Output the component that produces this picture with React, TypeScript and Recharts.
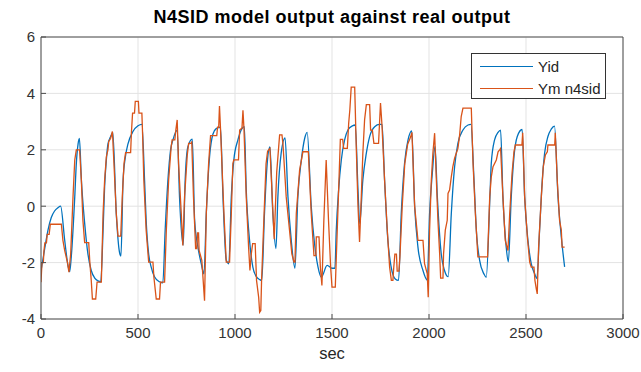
import { CartesianGrid, Line, LineChart, XAxis, YAxis } from "recharts";

const xTicks = [0, 500, 1000, 1500, 2000, 2500, 3000];
const yTicks = [-4, -2, 0, 2, 4, 6];

// Yid (measured output), time in sec
const yidT = [
  0, 18, 36, 53, 70, 88, 101, 122, 139, 148, 156, 174, 182, 191, 198, 208, 225, 242, 259, 277, 294, 308,
  320, 328, 337, 345, 358, 370, 388, 405, 412, 423, 435, 448, 474, 500, 520, 534, 542, 555, 568, 585, 611,
  628, 640, 654, 668, 680, 702, 714, 733, 743, 757, 780, 792, 809, 826, 840, 852, 869, 886, 903, 925, 938,
  955, 968, 981, 994, 1015, 1032, 1048, 1058, 1075, 1092, 1110, 1127, 1138, 1152, 1166, 1180, 1195, 1211,
  1221, 1238, 1258, 1273, 1290, 1309, 1324, 1342, 1359, 1372, 1393, 1410, 1428, 1445, 1475, 1500, 1515,
  1522, 1534, 1548, 1565, 1582, 1605, 1620, 1634, 1643, 1659, 1677, 1694, 1720, 1745, 1758, 1771, 1788,
  1805, 1826, 1843, 1857, 1874, 1892, 1911, 1926, 1943, 1969, 1991, 2003, 2017, 2031, 2043, 2063, 2080,
  2099, 2115, 2132, 2149, 2175, 2201, 2216, 2232, 2244, 2261, 2283, 2295, 2314, 2321, 2338, 2356, 2369,
  2381, 2398, 2409, 2424, 2438, 2455, 2480, 2493, 2510, 2527, 2545, 2556, 2570, 2584, 2596, 2613, 2630,
  2647, 2665, 2682, 2699,
];
const yidV = [
  -2.3, -1.55, -0.85, -0.4, -0.17, -0.05, 0.0, -1.2, -2.1, -2.32, -1.8, 0.33, 1.5, 2.2, 2.4, 0.95, -0.6,
  -1.7, -2.28, -2.55, -2.65, -2.68, -0.85, 0.7, 1.65, 2.2, 2.45, 2.62, -0.26, -1.65, -1.77, 0.9, 1.75, 2.2,
  2.65, 2.85, 2.9, 0.9, -0.5, -1.7, -2.16, -2.5, -2.68, -2.72, -0.85, 0.9, 2.0, 2.35, 2.7, 0.33, -1.38, 0.9,
  2.1, 2.38, -0.5, -1.45, -2.04, -2.4, -0.26, 1.76, 2.55, 2.75, 2.8, 0.33, -1.92, -2.04, 0.33, 1.64, 2.35,
  2.7, 2.82, 0.57, -1.21, -2.16, -2.5, -2.6, -2.63, -0.26, 1.52, 2.1, -0.26, -1.5, 0.33, 1.88, 2.42, 0.33,
  -1.21, -2.2, 0.33, 1.64, 2.4, 2.62, 0.0, -1.33, -2.16, -2.52, -2.1, -2.2, -2.2, -0.85, 0.57, 1.64, 2.35,
  2.7, 2.85, 2.88, 0.57, -0.62, 0.93, 1.88, 2.47, 2.82, 2.9, 2.9, 0.93, -1.21, -2.16, -2.58, -2.63, -0.26,
  1.52, 2.35, 2.67, 0.0, -1.45, -2.28, -2.62, -0.26, 1.16, 2.12, 0.33, -1.69, -2.28, -2.5, -0.26, 1.4, 2.23,
  2.7, 2.88, 2.9, 0.93, -0.85, -1.92, -2.4, -2.52, 0.33, 1.52, 2.35, 2.62, 2.7, 0.33, -1.45, -1.97, 0.33,
  1.76, 2.47, 2.72, 0.33, -1.21, -2.04, -2.4, -2.57, -0.85, 0.93, 1.88, 2.47, 2.73, 2.84, 0.33, -1.09, -2.15,
];

// Ym n4sid (model output), time in sec
const ymT = [
  0, 5, 12, 15, 20, 28, 32, 42, 48, 105, 113, 122, 136, 144, 153, 165, 174, 182, 199, 208, 216, 225, 246,
  251, 259, 265, 282, 289, 311, 320, 328, 337, 345, 349, 359, 368, 376, 388, 397, 411, 419, 428, 436, 462,
  466, 472, 482, 486, 502, 505, 520, 524, 530, 542, 555, 577, 582, 594, 611, 616, 637, 646, 658, 671, 676,
  690, 694, 702, 709, 723, 731, 740, 754, 761, 774, 777, 786, 797, 803, 807, 812, 815, 829, 843, 852, 864,
  874, 906, 910, 916, 920, 925, 929, 943, 955, 972, 981, 989, 994, 1018, 1024, 1036, 1041, 1046, 1058,
  1070, 1077, 1084, 1091, 1104, 1111, 1122, 1127, 1133, 1137, 1150, 1160, 1168, 1180, 1190, 1202, 1215,
  1230, 1242, 1247, 1264, 1281, 1293, 1304, 1309, 1316, 1333, 1350, 1378, 1393, 1407, 1417, 1419, 1433,
  1440, 1448, 1458, 1470, 1482, 1493, 1500, 1517, 1527, 1536, 1543, 1555, 1560, 1579, 1586, 1592, 1599,
  1617, 1625, 1634, 1642, 1651, 1659, 1668, 1677, 1694, 1699, 1708, 1716, 1740, 1750, 1757, 1771, 1785,
  1797, 1806, 1814, 1818, 1824, 1832, 1836, 1845, 1850, 1862, 1875, 1890, 1905, 1912, 1926, 1943, 1969,
  1977, 1991, 1996, 2003, 2012, 2020, 2029, 2038, 2046, 2055, 2060, 2072, 2075, 2084, 2094, 2098, 2106,
  2115, 2123, 2132, 2149, 2158, 2166, 2175, 2218, 2227, 2239, 2252, 2302, 2313, 2321, 2330, 2347, 2356,
  2364, 2369, 2381, 2393, 2407, 2416, 2428, 2438, 2445, 2479, 2483, 2493, 2507, 2519, 2527, 2541, 2546,
  2553, 2558, 2565, 2579, 2589, 2600, 2610, 2613, 2648, 2651, 2661, 2673, 2682, 2686, 2699,
];
const ymV = [
  -2.7, -2.0, -2.0, -1.6, -1.3, -1.3, -1.0, -1.0, -0.64, -0.64, -1.21, -1.57, -1.98, -2.34, -1.69, 0.33,
  1.64, 2.0, 2.0, 0.93, -0.5, -1.29, -1.29, -1.92, -2.63, -3.29, -3.29, -2.69, -2.69, -0.26, 0.93, 1.76,
  2.0, 2.29, 2.41, 2.65, 1.52, -0.26, -1.06, -1.06, 0.33, 1.52, 1.9, 1.9, 2.6, 3.3, 3.3, 3.72, 3.72, 3.3,
  3.3, 2.5, 0.93, -0.85, -1.98, -1.98, -2.52, -3.29, -3.29, -2.69, -2.69, -0.85, 0.93, 2.11, 2.35, 2.35,
  2.65, 3.06, 1.52, -0.26, -1.39, 0.33, 1.82, 2.23, 2.23, 2.3, 0.33, -1.5, -1.5, -0.95, -0.95, -1.57,
  -1.92, -3.35, -0.26, 1.52, 2.5, 2.5, 2.8, 2.8, 3.55, 2.8, 2.11, -0.26, -1.98, -1.98, -0.26, 1.52, 1.64,
  1.64, 2.7, 2.77, 3.4, 2.77, 0.33, -1.45, -2.28, -1.69, -1.33, -1.33, -2.63, -3.23, -3.76, -3.7, -2.63,
  -0.26, 1.5, 1.95, 2.05, 0.6, -1.17, 1.2, 2.53, 2.53, 2.23, 0.33, -0.85, -1.69, -1.98, -1.98, -0.26, 1.28,
  1.93, 1.93, -0.26, -1.75, -1.75, -1.09, -1.09, -2.16, -2.81, -0.5, 1.64, -0.5, -2.16, -2.87, -2.87,
  -0.85, 0.93, 2.37, 2.37, 2.05, 2.05, 2.94, 3.42, 4.22, 4.22, 2.11, 0.0, -1.27, 0.33, 1.88, 3.06, 3.6,
  3.6, 2.7, 2.7, 2.23, 2.23, 3.66, 2.94, 0.93, -0.85, -2.16, -2.63, -2.63, -2.2, -1.7, -1.7, -2.3, -2.3,
  -1.8, 0.0, 1.5, 2.2, 2.45, 2.62, 0.0, -1.21, -1.21, -2.04, -2.4, -3.23, -0.85, 0.93, 1.88, 2.59, 0.93,
  -0.5, -1.69, -2.55, -2.55, -1.69, -0.85, -0.5, 0.45, 0.57, 1.04, 1.4, 1.7, 2.05, 2.53, 3.18, 3.48, 3.48,
  1.52, -0.26, -1.8, -1.8, 0.33, 1.04, 1.4, 1.64, 1.93, 2.0, 2.05, 0.33, -1.21, -1.57, -0.26, 1.16, 1.93,
  2.17, 2.17, 2.6, 0.33, -1.09, -1.98, -2.16, -2.16, -2.63, -2.93, -3.11, -1.45, 0.33, 1.4, 1.82, 1.93,
  2.17, 2.17, 2.6, 0.93, -0.5, -0.85, -1.45, -1.45,
];

const yidData = yidT.map((t, i) => ({ t, v: yidV[i] }));
const ymData = ymT.map((t, i) => ({ t, v: ymV[i] }));

const BLUE = "#0072BD";
const ORANGE = "#D95319";
const AXIS = "#4d4d4d";
const FONT = '"Liberation Sans", Arial, Helvetica, sans-serif';
const tickStyle = { fill: "#333", fontSize: 15, fontFamily: FONT };

const series = [
  { name: "Yid", color: BLUE },
  { name: "Ym n4sid", color: ORANGE },
];

function LegendBox() {
  return (
    <div
      style={{
        position: "absolute",
        left: 471,
        top: 53,
        width: 133,
        height: 44,
        border: "1px solid #333",
        background: "#fff",
        fontFamily: FONT,
        fontSize: 15,
        color: "#262626",
      }}
    >
      {series.map((s) => (
        <div key={s.name} style={{ display: "flex", alignItems: "center", height: 20, marginTop: 2 }}>
          <span style={{ display: "inline-block", width: 53, height: 0, borderTop: `1.5px solid ${s.color}`, marginLeft: 8, marginRight: 5 }} />
          <span>{s.name}</span>
        </div>
      ))}
    </div>
  );
}

export default function App() {
  return (
    <div style={{ position: "absolute", left: 0, top: 0, width: 641, height: 372, background: "#fff", fontFamily: FONT }}>
      <div
        style={{
          position: "absolute",
          left: 41,
          width: 582,
          top: 7,
          textAlign: "center",
          fontWeight: "bold",
          fontSize: 18,
          letterSpacing: 0.5,
          color: "#000",
        }}
      >
        N4SID model output against real output
      </div>
      <div style={{ position: "absolute", left: 41, width: 582, top: 344, textAlign: "center", fontSize: 16.5, color: "#262626" }}>
        sec
      </div>
      <LineChart width={641} height={372} margin={{ top: 36, right: 17, bottom: 23, left: 0 }}>
        <CartesianGrid stroke="#e3e3e3" strokeWidth={1} />
        <XAxis
          dataKey="t"
          type="number"
          domain={[0, 3000]}
          ticks={xTicks}
          allowDataOverflow
          height={30}
          stroke={AXIS}
          tickSize={-5}
          tickMargin={13}
          tick={tickStyle}
        />
        <XAxis xAxisId="top" orientation="top" dataKey="t" type="number" domain={[0, 3000]} ticks={xTicks} height={1} stroke={AXIS} tickSize={-5} tick={false} />
        <YAxis
          type="number"
          domain={[-4, 6]}
          ticks={yTicks}
          allowDataOverflow
          width={41}
          stroke={AXIS}
          tickSize={-5}
          tickMargin={11}
          tick={tickStyle}
        />
        <YAxis yAxisId="right" orientation="right" type="number" domain={[-4, 6]} ticks={yTicks} width={1} stroke={AXIS} tickSize={-5} tick={false} />
        <Line data={yidData} dataKey="v" name="Yid" type="monotone" stroke={BLUE} strokeWidth={1.3} dot={false} isAnimationActive={false} />
        <Line data={ymData} dataKey="v" name="Ym n4sid" type="linear" stroke={ORANGE} strokeWidth={1.3} dot={false} isAnimationActive={false} />
      </LineChart>
      <LegendBox />
    </div>
  );
}
